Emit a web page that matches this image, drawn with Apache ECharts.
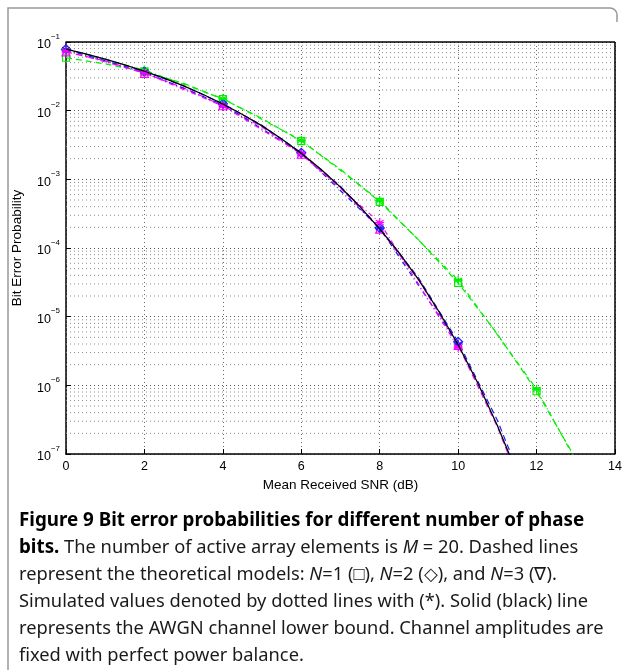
<!DOCTYPE html>
<html>
<head>
<meta charset="utf-8">
<script src="https://cdn.jsdelivr.net/npm/echarts@6/dist/echarts.min.js"></script>
<style>
  html, body { margin: 0; padding: 0; background: #fff; }
  #chart { width: 625px; height: 670px; }
</style>
</head>
<body>
<div id="chart"></div>
<script>
// SNR grids (dB)
const snrFine = [0, 0.5, 1, 1.5, 2, 2.5, 3, 3.5, 4, 4.5, 5, 5.5, 6, 6.5, 7, 7.5, 8, 8.5, 9, 9.5, 10, 10.5, 11, 11.5];
const snrTheory = [0, 1, 2, 3, 4, 5, 6, 7, 8, 9, 10, 11, 12, 13];
const snrSim = [0, 2, 4, 6, 8, 10, 12, 13];

// AWGN lower bound (solid black)
const awgnBound = [0.0786, 0.0671, 0.0563, 0.0464, 0.0375, 0.0297, 0.0229, 0.0172, 0.0125, 0.0088,
  0.0060, 0.00386, 0.00239, 0.0014, 7.7e-4, 3.98e-4, 1.9e-4, 8.4e-5, 3.4e-5, 1.21e-5,
  3.9e-6, 1.08e-6, 2.6e-7, 5.3e-8];

// Theoretical models (dashed)
const theoryN1 = [0.059, 0.048, 0.037, 0.025, 0.0147, 0.0077, 0.0036, 0.0014, 4.7e-4, 1.3e-4, 3.1e-5, 5.6e-6, 8.2e-7, 8.5e-8];
const theoryN2 = [0.0785, 0.0562, 0.0374, 0.0229, 0.0126, 0.0061, 0.00243, 7.9e-4, 1.96e-4, 3.6e-5, 4.3e-6, 3.1e-7, 1.2e-8, null];
const theoryN3 = [0.072, 0.053, 0.035, 0.0215, 0.0118, 0.0058, 0.00232, 7.6e-4, 1.88e-4, 3.4e-5, 3.8e-6, 2.5e-7, 9e-9, null];

// Simulated values (dotted, asterisks)
const simN1 = [0.076, 0.039, 0.0150, 0.0037, 4.9e-4, 3.4e-5, 8.8e-7, 8.0e-8];
const simN2 = [0.0775, 0.0365, 0.0122, 0.0024, 1.95e-4, 4.0e-6, null, null];
const simN3 = [0.074, 0.0355, 0.0117, 0.00235, 2.35e-4, 3.6e-6, null, null];

// Axis ticks
const xTicks = [0, 2, 4, 6, 8, 10, 12, 14];
const yExponents = [-7, -6, -5, -4, -3, -2, -1];
const minorMultipliers = [2, 3, 4, 5, 6, 7, 8, 9];

const GREEN = '#00ee00';
const BLUE = '#1a1aff';
const MAGENTA = '#ff00ff';
const ASTERISK = 'path://M0,-10L0,10M-8.66,-5L8.66,5M-8.66,5L8.66,-5M-10,0L10,0';

function pairs(xs, ys) {
  const out = [];
  for (let i = 0; i < xs.length; i++) {
    if (ys[i] != null) out.push([xs[i], ys[i]]);
  }
  return out;
}

// theory points carry a marker only at even SNR values
function markedPairs(xs, ys, symbol) {
  return pairs(xs, ys).map(p => ({
    value: p,
    symbol: (p[0] % 2 === 0) ? symbol : 'none'
  }));
}

function theorySeries(name, ys, color, symbol, size) {
  return {
    name, type: 'line', data: markedPairs(snrTheory, ys, symbol),
    showSymbol: true, symbolSize: size, smooth: false,
    lineStyle: { color, width: 1.2, type: [6, 4] },
    itemStyle: { color: 'rgba(0,0,0,0)', borderColor: color, borderWidth: 1.2 },
    clip: true, z: 3, animation: false
  };
}

function simSeries(name, ys, color) {
  return {
    name, type: 'line', data: pairs(snrSim, ys),
    symbol: ASTERISK, symbolSize: 9, showSymbol: true,
    lineStyle: { color, width: 1.2, type: [5, 3, 1, 3] },
    itemStyle: { color: 'rgba(0,0,0,0)', borderColor: color, borderWidth: 1.2 },
    clip: true, z: 4, animation: false
  };
}

// minor horizontal grid lines of the log axis (2..9 times each decade)
const minorGridSeries = [];
for (const e of yExponents.slice(0, -1)) {
  for (const m of minorMultipliers) {
    const v = m * Math.pow(10, e);
    minorGridSeries.push({
      type: 'line', data: [[0, v], [14, v]], symbol: 'none', silent: true, z: 1,
      lineStyle: { color: '#8a8a8a', width: 1, type: [1, 3] }, animation: false
    });
  }
}

const chart = echarts.init(document.getElementById('chart'), null, { renderer: 'canvas' });

chart.setOption({
  backgroundColor: '#ffffff',
  animation: false,
  grid: { left: 66, right: 10, top: 42, bottom: 216, show: false },
  xAxis: {
    type: 'value', min: 0, max: 14, interval: 2,
    name: 'Mean Received SNR (dB)', nameLocation: 'middle', nameGap: 23,
    nameTextStyle: { fontFamily: 'Liberation Sans', fontSize: 13.5, color: '#000' },
    axisLine: { show: true, lineStyle: { color: '#000', width: 1.5 } },
    axisTick: { show: true, inside: true, length: 5, lineStyle: { color: '#000' } },
    axisLabel: { fontFamily: 'Liberation Sans', fontSize: 12.5, color: '#000', margin: 6,
      customValues: xTicks },
    splitLine: { show: true, lineStyle: { color: '#666', width: 1, type: [1, 3] } }
  },
  yAxis: {
    type: 'log', logBase: 10, min: 1e-7, max: 1e-1,
    name: 'Bit Error Probability', nameLocation: 'middle', nameGap: 42,
    nameTextStyle: { fontFamily: 'Liberation Sans', fontSize: 13.5, color: '#000' },
    axisLine: { show: true, lineStyle: { color: '#000', width: 1.5 } },
    axisTick: { show: true, inside: true, length: 5, lineStyle: { color: '#000' } },
    axisLabel: {
      fontFamily: 'Liberation Sans', color: '#000', margin: 6,
      formatter: v => {
        const e = Math.round(Math.log10(v));
        return '{b|10}{s|' + String(e).replace('-', '\u2212') + '}';
      },
      rich: {
        b: { fontSize: 12.5, fontFamily: 'Liberation Sans', color: '#000', verticalAlign: 'bottom', padding: [6, 0, 0, 0] },
        s: { fontSize: 8, fontFamily: 'Liberation Sans', color: '#000', verticalAlign: 'top', padding: [0, 0, 6, 0] }
      }
    },
    splitLine: { show: true, lineStyle: { color: '#555', width: 1, type: [1, 3] } }
  },
  series: minorGridSeries.concat([
    theorySeries('N=1 theory', theoryN1, GREEN, 'rect', 7),
    theorySeries('N=2 theory', theoryN2, BLUE, 'diamond', 9),
    theorySeries('N=3 theory', theoryN3, MAGENTA, 'triangle', 8),
    simSeries('N=1 sim', simN1, GREEN),
    simSeries('N=2 sim', simN2, BLUE),
    simSeries('N=3 sim', simN3, MAGENTA),
    {
      name: 'AWGN bound', type: 'line', data: pairs(snrFine, awgnBound),
      symbol: 'none', smooth: false, clip: true, z: 5,
      lineStyle: { color: '#000', width: 1.3 }
    }
  ]),
  graphic: [
    // plot box top and right edges
    { type: 'line', shape: { x1: 66, y1: 42, x2: 615, y2: 42 }, style: { stroke: '#000', lineWidth: 1.5 }, z: 10 },
    { type: 'line', shape: { x1: 615, y1: 42, x2: 615, y2: 454 }, style: { stroke: '#000', lineWidth: 1.5 }, z: 10 },
    // figure frame
    { type: 'polyline', shape: { points: [[8, 670], [8, 8], [610, 8]] }, style: { stroke: '#999', fill: null, lineWidth: 1.5 } },
    { type: 'arc', shape: { cx: 610, cy: 15, r: 7, startAngle: -Math.PI / 2, endAngle: 0 }, style: { stroke: '#999', fill: null, lineWidth: 1.5 } },
    { type: 'line', shape: { x1: 617, y1: 15, x2: 617, y2: 22 }, style: { stroke: '#999', lineWidth: 1.5 } },
    // caption
    {
      type: 'text', left: 19, top: 507,
      style: {
        text: [
          '{bo|Figure 9 Bit error probabilities for different number of phase}',
          '{bo|bits.} The number of active array elements is {it|M} = 20. Dashed lines',
          'represent the theoretical models: {it|N}=1 (\u25A1), {it|N}=2 (\u25C7), and {it|N}=3 (\u2207).',
          'Simulated values denoted by dotted lines with (*). Solid (black) line',
          'represents the AWGN channel lower bound. Channel amplitudes are',
          'fixed with perfect power balance.'
        ].join('\n'),
        fontFamily: 'Noto Sans', fontSize: 18.3, lineHeight: 27, fill: '#1a1a1a',
        rich: {
          bo: { fontFamily: 'Noto Sans', fontWeight: 'bold', fontSize: 18.8, lineHeight: 27, fill: '#000' },
          it: { fontFamily: 'Noto Sans', fontStyle: 'italic', fontSize: 18.3, lineHeight: 27, fill: '#1a1a1a' }
        }
      }
    }
  ]
});
</script>
</body>
</html>
